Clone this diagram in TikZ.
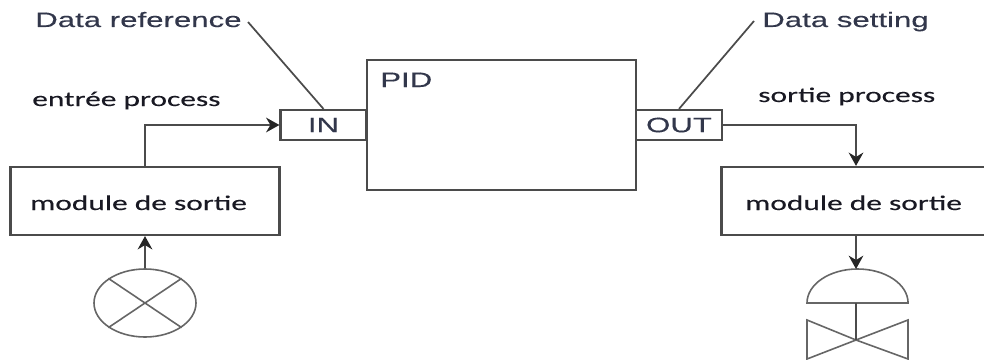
\documentclass[tikz,border=0pt]{standalone}
\usepackage{fontspec}
\usetikzlibrary{arrows.meta,shapes.geometric}
\newfontfamily\refont[FakeStretch=1.5,FakeBold=0.25]{Liberation Sans}
\newfontfamily\procfont[FakeStretch=1.5,FakeBold=0.25]{Carlito}
\definecolor{linegray}{RGB}{75,75,75}
\definecolor{refink}{RGB}{50,55,75}
\definecolor{procink}{RGB}{25,25,35}
\tikzset{
  block/.style={draw=linegray, line width=1.6pt, fill=white, inner sep=0pt},
  modbox/.style={block, minimum width=201.75pt, minimum height=51pt},
  portbox/.style={block, minimum width=64.5pt, minimum height=22.5pt, text=refink, font=\refont\fontsize{15.6}{18}\selectfont},
  reftext/.style={anchor=base west, inner sep=0pt, text=refink, font=\refont\fontsize{15.6}{18}\selectfont},
  proctext/.style={anchor=base west, inner sep=0pt, text=procink, font=\procfont\fontsize{15.7}{18}\selectfont},
  flow/.style={draw=linegray, line width=1.5pt, -{Stealth[length=10pt,width=11pt,color=black!85]}},
  leader/.style={draw=linegray, line width=1.3pt},
  symb/.style={draw=linegray!85, line width=1.2pt}
}
\begin{document}
\begin{tikzpicture}[x=0.75pt, y=-0.75pt]
    \useasboundingbox (0,0) rectangle (984,360);
    \node[block, minimum width=201.75pt, minimum height=97.5pt] (pid) at (501.5,125) {};
    \node[portbox] (in) at (323.5,125) {IN};
    \node[portbox] (out) at (679,125) {OUT};
    \node[modbox] (modleft) at (145,201) {};
    \node[modbox] (modright) at (856,201) {};
    % texts
    \node[reftext] (pidtxt) at (380,87) {PID};
    \node[reftext] (dataref) at (35,27) {Data reference};
    \node[reftext] (dataset) at (762,27) {Data setting};
    \node[proctext] (entree) at (32,106) {entrée process};
    \node[proctext] (sortie) at (758,102) {sortie process};
    \node[proctext] (modltxt) at (30,210) {module de sortie};
    \node[proctext] (modrtxt) at (745,210) {module de sortie};
    % sensor
    \node[symb, shape=ellipse, minimum width=76.5pt, minimum height=51pt, inner sep=0pt] (sensor) at (145,303) {};
    \draw[symb] (sensor.north west) -- (sensor.south east);
    \draw[symb] (sensor.north east) -- (sensor.south west);
    % valve
    \coordinate (domeleft) at (807,303);
    \coordinate (dometop) at (856,269);
    \coordinate (domebase) at (856,303);
    \coordinate (valvemid) at (856,340);
    \draw[symb] (domeleft) arc[start angle=180, end angle=0, x radius=37.9pt, y radius=25.5pt] -- cycle;
    \draw[symb] (valvemid) -- (807,320) -- (807,359) -- cycle;
    \draw[symb] (valvemid) -- (908,320) -- (908,359) -- cycle;
    \draw[linegray, line width=1.3pt] (domebase) -- (valvemid);
    % connectors
    \coordinate (leadin) at (248,22);
    \coordinate (leadout) at (754,21);
    \draw[leader] (leadin) -- (in.north);
    \draw[leader] (leadout) -- (out.north);
    \draw[flow] (modleft.north) |- (in.west);
    \draw[flow] (out.east) -| (modright.north);
    \draw[flow] (sensor.north) -- (modleft.south);
    \draw[flow] (modright.south) -- (dometop);
\end{tikzpicture}
\end{document}
